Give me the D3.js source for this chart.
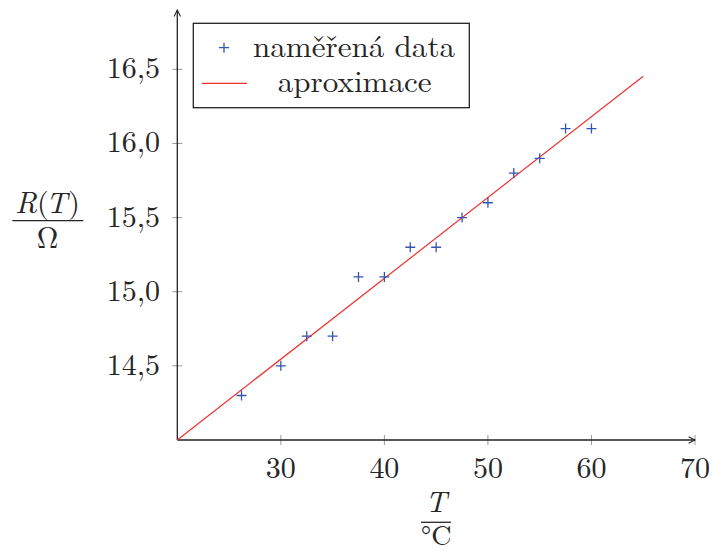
<!DOCTYPE html>
<html><head><meta charset="utf-8">
<script src="https://cdn.jsdelivr.net/npm/d3@7"></script>
<style>html,body{margin:0;padding:0;background:#fff}svg{display:block}</style>
</head><body>
<script>
const temps = [26.2, 30, 32.5, 35, 37.5, 40, 42.5, 45, 47.5, 50, 52.5, 55, 57.5, 60];
const resist = [14.3, 14.5, 14.7, 14.7, 15.1, 15.1, 15.3, 15.3, 15.5, 15.6, 15.8, 15.9, 16.1, 16.1];
const fitT = [20, 65];
const fitR = [14.0, 16.453];
const xTicks = [30, 40, 50, 60, 70];
const yTicks = [14.5, 15.0, 15.5, 16.0, 16.5];
const legendLabels = ["naměřená data", "aproximace"];

const W = 713, H = 550;
const FAM = '"Latin Modern Roman"';
const TXT = "#262626";
const BLUE = "#3556b0";
const RED = "#f03030";

const svg = d3.select("body").append("svg").attr("width", W).attr("height", H);

const x = d3.scaleLinear().domain([20, 70]).range([177.3, 695]);
const y = d3.scaleLinear().domain([14, 16.9]).range([440, 10]);

const T = (sel) => sel.style("font-family", FAM).attr("fill", TXT);

svg.append("defs").append("marker").attr("id", "arr").attr("viewBox", "0 0 10 10")
  .attr("refX", 9).attr("refY", 5).attr("markerWidth", 8).attr("markerHeight", 8)
  .attr("markerUnits", "userSpaceOnUse").attr("orient", "auto")
  .append("path").attr("d", "M1,1 L9,5 L1,9").attr("fill", "none").attr("stroke", "#222").attr("stroke-width", 1.3);

// ticks
const xg = svg.append("g");
xg.selectAll("line").data(xTicks).join("line")
  .attr("x1", d => x(d)).attr("x2", d => x(d)).attr("y1", y(14) - 5).attr("y2", y(14) + 5)
  .attr("stroke", "#999").attr("stroke-width", 1);
xg.selectAll("text").data(xTicks).join("text")
  .attr("x", d => x(d)).attr("y", 478).attr("text-anchor", "middle")
  .attr("font-size", 30).call(T).text(d => d);

const yg = svg.append("g");
yg.selectAll("line").data(yTicks).join("line")
  .attr("x1", x(20) - 5).attr("x2", x(20) + 5).attr("y1", d => y(d)).attr("y2", d => y(d))
  .attr("stroke", "#999").attr("stroke-width", 1);
yg.selectAll("text").data(yTicks).join("text")
  .attr("x", 160).attr("y", d => y(d) + 9).attr("text-anchor", "end")
  .attr("font-size", 30).call(T).text(d => d.toFixed(1).replace(".", ","));

svg.append("line").attr("x1", x(20)).attr("y1", y(14)).attr("x2", x(70)).attr("y2", y(14))
  .attr("stroke", "#222").attr("stroke-width", 1.3).attr("marker-end", "url(#arr)");
svg.append("line").attr("x1", x(20)).attr("y1", y(14)).attr("x2", x(20)).attr("y2", y(16.9))
  .attr("stroke", "#222").attr("stroke-width", 1.3).attr("marker-end", "url(#arr)");

// fit line
const line = d3.line().x(d => x(d[0])).y(d => y(d[1]));
svg.append("path").datum(d3.zip(fitT, fitR)).attr("d", line)
  .attr("fill", "none").attr("stroke", RED).attr("stroke-width", 1.2);

// data points
const plus = (g, cx, cy) => {
  g.append("path").attr("d", `M${cx - 5},${cy}H${cx + 5}M${cx},${cy - 5}V${cy + 5}`)
    .attr("stroke", BLUE).attr("stroke-width", 1.3).attr("fill", "none");
};
const pg = svg.append("g");
d3.zip(temps, resist).forEach(([t, r]) => plus(pg, x(t), y(r)));

// legend
const lg = svg.append("g");
lg.append("rect").attr("x", 193.3).attr("y", 23.3).attr("width", 276).attr("height", 84.4)
  .attr("fill", "#fff").attr("stroke", "#222").attr("stroke-width", 1.3);
plus(lg, 224, 47.7);
lg.append("line").attr("x1", 202).attr("x2", 247).attr("y1", 83.3).attr("y2", 83.3)
  .attr("stroke", RED).attr("stroke-width", 1.2);
lg.append("text").attr("x", 354).attr("y", 57).attr("text-anchor", "middle")
  .attr("font-size", 30).call(T).attr("textLength", 202).attr("lengthAdjust", "spacingAndGlyphs")
  .text(legendLabels[0]);
lg.append("text").attr("x", 354.7).attr("y", 92).attr("text-anchor", "middle")
  .attr("font-size", 30).call(T).attr("textLength", 154).attr("lengthAdjust", "spacingAndGlyphs")
  .text(legendLabels[1]);

// y label
const yl = svg.append("g");
const rt = yl.append("text").attr("x", 47.5).attr("y", 213).attr("text-anchor", "middle").attr("font-size", 30).call(T);
rt.append("tspan").attr("font-style", "italic").text("R");
rt.append("tspan").text("(");
rt.append("tspan").attr("font-style", "italic").attr("dx", -3).text("T");
rt.append("tspan").attr("dx", 1).text(")");
yl.append("line").attr("x1", 12.3).attr("x2", 83.3).attr("y1", 220.7).attr("y2", 220.7)
  .attr("stroke", TXT).attr("stroke-width", 1.3);
yl.append("text").attr("x", 47.5).attr("y", 248).attr("text-anchor", "middle").attr("font-size", 30).call(T).text("Ω");

// x label
const xl = svg.append("g");
xl.append("text").attr("x", 436).attr("y", 512).attr("text-anchor", "middle").attr("font-size", 30)
  .attr("font-style", "italic").call(T).text("T");
xl.append("line").attr("x1", 421).attr("x2", 451).attr("y1", 522.3).attr("y2", 522.3)
  .attr("stroke", TXT).attr("stroke-width", 1.3);
xl.append("text").attr("x", 436).attr("y", 545).attr("text-anchor", "middle").attr("font-size", 28).call(T).text("°C");
</script>
</body></html>
